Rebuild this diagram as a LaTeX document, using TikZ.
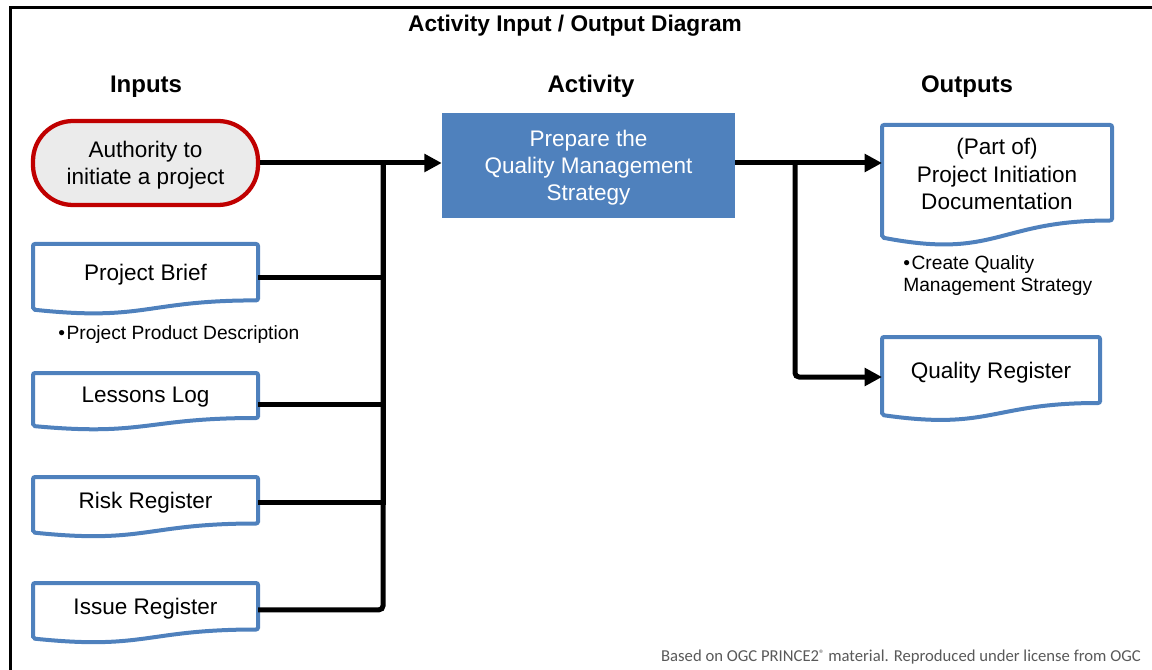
\documentclass[tikz,border=0pt]{standalone}
\usepackage{fontspec}
\setmainfont{Liberation Sans}
\newfontfamily\footfont{Carlito}
\usetikzlibrary{arrows.meta,calc}
\definecolor{docblue}{HTML}{4F81BD}
\definecolor{authred}{HTML}{C00000}
\definecolor{authgray}{HTML}{EBEBEB}
\definecolor{footgray}{HTML}{595959}
% outline of a document shape around a node, #2 = half the drop of the wavy edge
\newcommand\docoutline[2]{%
  \draw[docline] ($(#1.south east)+(0,-#2)$) -- (#1.north east) -- (#1.north west) -- ($(#1.south west)+(0,#2)$)
    .. controls ($(#1.south)+(0,3.6*#2)$) and ($(#1.south)+(0,-#2)$) .. cycle;}
\begin{document}
\begin{tikzpicture}[x=0.75pt, y=-0.75pt,
    boxtext/.style={font=\fontsize{16.9}{20.5}\selectfont, align=center},
    heading/.style={font=\bfseries\fontsize{18}{20}\selectfont},
    note/.style={font=\fontsize{14.4}{16.5}\selectfont, align=left, anchor=west, inner sep=0pt},
    doc/.style={boxtext, inner sep=0pt, outer sep=0pt, minimum width=168.75pt},
    docline/.style={draw=docblue, line width=3pt, rounded corners=1.5pt},
    wire/.style={line width=3.75pt},
    flow/.style={wire, -{Triangle[length=13pt,width=13pt]}}]
    \useasboundingbox (0,0) rectangle (1152,670);
    \draw[line width=2.25pt] (10,670) -- (10,8) -- (1152,8);
    \node[font=\bfseries\fontsize{17}{20}\selectfont] (title) at (575,25.5) {Activity Input / Output Diagram};
    \node[heading] (hin) at (146,86.5) {Inputs};
    \node[heading] (hact) at (591,86) {Activity};
    \node[heading] (hout) at (967,86.5) {Outputs};
    % inputs
    \node[boxtext, draw=authred, fill=authgray, line width=3.2pt, rounded corners=30pt, text depth=0pt,
        minimum width=168.75pt, minimum height=63pt] (auth) at (145.5,163) {Authority to\\initiate a project};
    \node[doc, minimum height=45.75pt] (brief) at (145.5,274.5) {Project Brief};
    \node[doc, minimum height=36.75pt] (lessons) at (145.5,397.5) {Lessons Log};
    \node[doc, minimum height=38.25pt] (risk) at (145.5,502.5) {Risk Register};
    \node[doc, minimum height=38.25pt] (issue) at (145.5,608.5) {Issue Register};
    \docoutline{brief}{4.6}
    \docoutline{lessons}{4}
    \docoutline{risk}{4.5}
    \docoutline{issue}{4.5}
    \node[note] (briefnote) at (58,334.5) {•\hspace{1.2pt}Project Product Description};
    % activity
    \node[boxtext, fill=docblue, text=white, text depth=0pt, minimum width=219.75pt, minimum height=78.75pt] (act) at (588.5,165.5)
        {Prepare the\\Quality Management\\Strategy};
    % outputs
    \node[doc, text depth=4.5pt, minimum width=172.5pt, minimum height=78pt] (pid) at (997,177)
        {(Part of)\\Project Initiation\\Documentation};
    \node[doc, minimum width=163.5pt, minimum height=54pt] (qreg) at (991,373) {Quality Register};
    \docoutline{pid}{8.5}
    \docoutline{qreg}{6}
    \node[note] (pidnote) at (903,275.5) {•\hspace{1.2pt}Create Quality\\Management Strategy};
    % connectors
    \coordinate (inbus) at (383,163);
    \coordinate (outbus) at (795,163);
    \draw[flow] (auth.east) -- (auth.east -| act.west);
    \draw[wire] ([yshift=-2pt]brief.east) -| (inbus);
    \draw[wire] ([yshift=-5.5pt]lessons.east) -| (inbus);
    \draw[wire] (risk.east) -| (inbus);
    \draw[wire, rounded corners=3pt] ([yshift=-1pt]issue.east) -| (inbus);
    \draw[flow] (auth.east -| act.east) -- (auth.east -| pid.west);
    \draw[flow, rounded corners=3pt] (outbus) |- ([yshift=-3pt]qreg.west);
    \node[text=footgray, font=\footfont\fontsize{12.5}{14}\selectfont, anchor=east, inner sep=0pt] (credit) at (1141,657)
        {Based on OGC PRINCE2{\fontsize{8}{8}\selectfont\raisebox{3.5pt}{®}} material. Reproduced under license from OGC};
\end{tikzpicture}
\end{document}
